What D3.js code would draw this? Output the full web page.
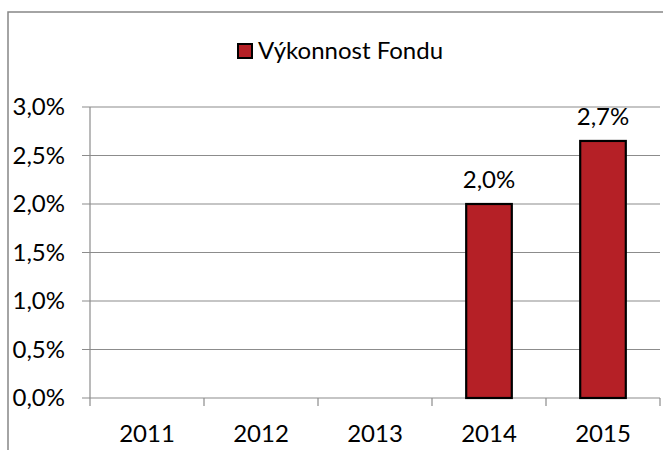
<!DOCTYPE html>
<html><head><meta charset="utf-8">
<script src="https://cdn.jsdelivr.net/npm/d3@7"></script>
<style>body{margin:0;background:#fff}svg{display:block}text{font-family:Lato,"Liberation Sans",sans-serif;fill:#000}</style>
</head><body><svg id="c" width="663" height="450"></svg>
<script>
const categories = ["2011","2012","2013","2014","2015"];
const values = [null, null, null, 2.0, 2.65];
const valueLabels = ["", "", "", "2,0%", "2,7%"];
const yTicks = [0, 0.5, 1.0, 1.5, 2.0, 2.5, 3.0];
const yTickLabels = ["0,0%","0,5%","1,0%","1,5%","2,0%","2,5%","3,0%"];
const seriesName = "Výkonnost Fondu";

const svg = d3.select("#c");
const fs = 24;
// chart border
svg.append("rect").attr("x",8).attr("y",12).attr("width",670).attr("height",460)
  .attr("fill","none").attr("stroke","#878787").attr("stroke-width",1.5);

const x = d3.scaleBand().domain(categories).range([90,660]).paddingInner(0.6).paddingOuter(0.3);
const xb = d3.scaleBand().domain(categories).range([90,660]);
const y = d3.scaleLinear().domain([0,3]).range([398,107]);

// gridlines
svg.append("g").selectAll("line").data(yTicks).join("line")
  .attr("x1",82).attr("x2",660).attr("y1",d=>y(d)).attr("y2",d=>y(d))
  .attr("stroke","#8c8c8c").attr("stroke-width",1.2);
// y axis line
svg.append("line").attr("x1",90).attr("x2",90).attr("y1",107).attr("y2",398)
  .attr("stroke","#8c8c8c").attr("stroke-width",1.2);
// x ticks
const xt = categories.map(c=>xb(c)).concat([660]);
svg.append("g").selectAll("line").data(xt).join("line")
  .attr("x1",d=>d).attr("x2",d=>d).attr("y1",398).attr("y2",406)
  .attr("stroke","#8c8c8c").attr("stroke-width",1.2);

// y labels
svg.append("g").selectAll("text").data(yTicks).join("text")
  .attr("x",65).attr("y",d=>y(d)+8).attr("text-anchor","end").attr("font-size",fs)
  .text((d,i)=>yTickLabels[i]);
// x labels
svg.append("g").selectAll("text").data(categories).join("text")
  .attr("x",d=>xb(d)+xb.bandwidth()/2).attr("y",442).attr("text-anchor","middle").attr("font-size",fs)
  .text(d=>d);

// bars
const data = categories.map((c,i)=>({c, v:values[i], l:valueLabels[i]})).filter(d=>d.v!=null);
svg.append("g").selectAll("rect").data(data).join("rect")
  .attr("x",d=>x(d.c)).attr("width",x.bandwidth())
  .attr("y",d=>y(d.v)).attr("height",d=>y(0)-y(d.v))
  .attr("fill","#B52026").attr("stroke","#000").attr("stroke-width",2.2);
svg.append("g").selectAll("text").data(data).join("text")
  .attr("x",d=>x(d.c)+x.bandwidth()/2).attr("y",d=>y(d.v)-16).attr("text-anchor","middle").attr("font-size",fs)
  .text(d=>d.l);

// legend
svg.append("rect").attr("x",238).attr("y",44).attr("width",14).attr("height",14)
  .attr("fill","#B52026").attr("stroke","#000").attr("stroke-width",2);
svg.append("text").attr("x",258).attr("y",59).attr("font-size",fs).text(seriesName);
</script></body></html>
